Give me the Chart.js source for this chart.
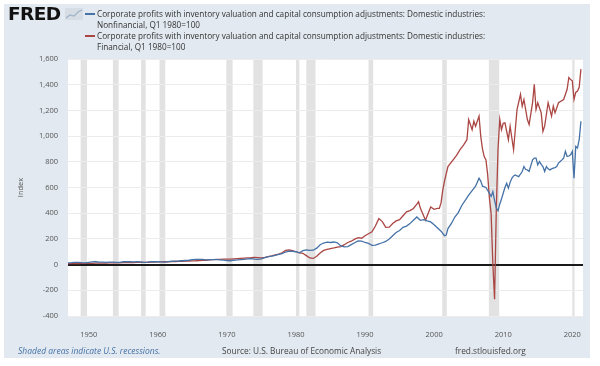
<!DOCTYPE html>
<html><head><meta charset="utf-8">
<script src="https://cdn.jsdelivr.net/npm/chart.js@4.4.1/dist/chart.umd.min.js"></script>
<style>
html,body{margin:0;padding:0;background:#fff;width:600px;height:366px;overflow:hidden;font-family:"Open Sans",sans-serif;}
#panel{position:absolute;left:4px;top:4px;width:586px;height:354px;background:#e2e9f0;}
canvas{position:absolute;left:0;top:0;}
.t{position:absolute;white-space:nowrap;font-size:8.2px;color:#333;line-height:11px;}
.dash{position:absolute;width:10px;height:2px;}
#logo{position:absolute;left:8px;top:3px;font-family:"DejaVu Sans",sans-serif;font-weight:900;font-size:18.5px;letter-spacing:-0.6px;color:#111;}
.f{position:absolute;top:345px;white-space:nowrap;font-size:8.3px;color:#444;}
</style></head>
<body>
<div id="panel"></div>
<canvas id="c" width="600" height="366"></canvas>
<div id="logo">FRED</div>
<svg style="position:absolute;left:65px;top:8px" width="18" height="12"><rect x="0" y="0" width="18" height="12" fill="#d6dde4"/><polyline points="1,10 5,7 9,8 13,4 17,2" fill="none" stroke="#9fb4c8" stroke-width="1.2"/></svg>
<div class="dash" style="left:85px;top:13px;background:#4572a7"></div>
<div class="t" style="left:97px;top:8px">Corporate profits with inventory valuation and capital consumption adjustments: Domestic industries:<br>Nonfinancial, Q1 1980=100</div>
<div class="dash" style="left:85px;top:35px;background:#aa4643"></div>
<div class="t" style="left:97px;top:30px">Corporate profits with inventory valuation and capital consumption adjustments: Domestic industries:<br>Financial, Q1 1980=100</div>
<div class="f" style="left:18px;font-style:italic;color:#4572a7;font-size:8.5px">Shaded areas indicate U.S. recessions.</div>
<div class="f" style="left:222px">Source: U.S. Bureau of Economic Analysis</div>
<div class="f" style="left:455px">fred.stlouisfed.org</div>
<script>
const xTickYears = [1950,1960,1970,1980,1990,2000,2010,2020];
const yTicks = [-400,-200,0,200,400,600,800,1000,1200,1400,1600];
const recStart = [1948.83,1953.5,1957.58,1960.25,1969.92,1973.83,1980.0,1981.5,1990.5,2001.17,2007.92,2020.0];
const recEnd   = [1949.75,1954.33,1958.25,1961.08,1970.83,1975.17,1980.5,1982.83,1991.17,2001.83,2009.42,2020.33];

const nonfinYears = [1947,1947.5,1948,1948.5,1949,1949.5,1950,1950.5,1951,1951.5,1952,1952.5,1953,1953.5,1954,1954.5,1955,1955.5,1956,1956.5,1957,1957.5,1958,1958.5,1959,1959.5,1960,1960.5,1961,1961.5,1962,1962.5,1963,1963.5,1964,1964.5,1965,1965.5,1966,1966.5,1967,1967.5,1968,1968.5,1969,1969.5,1970,1970.5,1971,1971.5,1972,1972.5,1973,1973.5,1974,1974.5,1975,1975.5,1976,1976.5,1977,1977.5,1978,1978.5,1979,1979.5,1980,1980.5,1981,1981.5,1982,1982.5,1983,1983.5,1984,1984.5,1985,1985.5,1986,1986.5,1987,1987.5,1988,1988.5,1989,1989.5,1990,1990.5,1991,1991.5,1992,1992.5,1993,1993.5,1994,1994.5,1995,1995.5,1996,1996.5,1997,1997.5,1998,1998.5,1999,1999.5,2000,2000.5,2001,2001.5,2001.75,2002,2002.5,2003,2003.5,2004,2004.5,2005,2005.5,2006,2006.5,2006.75,2007,2007.5,2008,2008.25,2008.5,2008.75,2009,2009.25,2009.5,2009.75,2010,2010.25,2010.5,2010.75,2011,2011.25,2011.5,2011.75,2012,2012.25,2012.5,2012.75,2013,2013.25,2013.5,2013.75,2014,2014.25,2014.5,2014.75,2015,2015.25,2015.5,2015.75,2016,2016.25,2016.5,2016.75,2017,2017.25,2017.5,2017.75,2018,2018.25,2018.5,2018.75,2019,2019.25,2019.5,2019.75,2020,2020.25,2020.5,2020.75,2021,2021.25];
const nonfinValues = [14,15,17,18,15,14,18,21,22,19,19,18,20,19,17,18,22,23,22,21,22,21,17,19,23,22,23,21,20,23,26,27,28,30,32,34,38,40,41,40,37,38,39,39,37,35,31,30,34,36,39,41,45,46,42,40,44,55,62,66,72,80,86,98,104,103,100,92,108,115,110,112,128,155,168,175,172,176,170,145,138,140,155,170,185,182,172,165,150,152,162,170,180,200,225,250,265,290,300,319,345,371,345,350,340,332,310,285,260,225,230,280,320,370,405,460,500,540,575,610,672,650,610,600,555,530,567,500,440,420,470,510,555,600,633,595,640,672,690,698,690,684,705,724,763,740,737,725,770,815,829,829,776,802,780,763,724,763,745,737,745,750,755,763,790,802,815,829,881,841,845,855,881,672,920,907,972,1116];

const finYears = [1947,1947.5,1948,1948.5,1949,1949.5,1950,1950.5,1951,1951.5,1952,1952.5,1953,1953.5,1954,1954.5,1955,1955.5,1956,1956.5,1957,1957.5,1958,1958.5,1959,1959.5,1960,1960.5,1961,1961.5,1962,1962.5,1963,1963.5,1964,1964.5,1965,1965.5,1966,1966.5,1967,1967.5,1968,1968.5,1969,1969.5,1970,1970.5,1971,1971.5,1972,1972.5,1973,1973.5,1974,1974.5,1975,1975.5,1976,1976.5,1977,1977.5,1978,1978.5,1979,1979.5,1980,1980.5,1981,1981.5,1982,1982.5,1983,1983.5,1984,1984.5,1985,1985.5,1986,1986.5,1987,1987.5,1988,1988.5,1989,1989.5,1990,1990.5,1991,1991.5,1991.75,1992,1992.5,1993,1993.5,1994,1994.5,1995,1995.5,1996,1996.5,1997,1997.5,1997.75,1998,1998.25,1998.75,1999,1999.5,2000,2000.5,2000.75,2001,2001.25,2001.5,2002,2002.75,2003.25,2003.75,2004.25,2004.75,2005,2005.5,2005.75,2006,2006.5,2006.75,2007,2007.25,2007.5,2007.75,2008,2008.25,2008.5,2008.75,2009,2009.25,2009.5,2009.75,2010,2010.25,2010.75,2011,2011.5,2012,2012.5,2012.75,2013,2013.5,2013.75,2014.25,2014.5,2014.75,2015,2015.5,2015.75,2016,2016.5,2017,2017.25,2017.5,2018,2018.75,2019.25,2019.5,2019.75,2020,2020.25,2020.5,2020.75,2021,2021.25];
const finValues = [7,7,8,8,9,9,10,10,11,11,12,12,13,13,14,14,15,15,16,16,17,17,18,18,19,20,21,21,22,22,23,24,25,26,27,28,29,30,32,33,34,36,38,40,41,42,42,43,45,47,49,51,53,54,56,55,52,56,62,68,75,82,92,110,115,108,100,92,88,70,52,48,65,90,110,118,125,130,136,140,155,172,182,198,210,205,225,240,255,300,330,358,335,290,292,320,340,350,380,410,420,437,470,489,440,410,345,380,449,430,437,437,480,580,650,763,815,850,894,930,972,1129,1050,1116,1077,1155,998,900,841,815,700,520,397,5,-270,430,900,1130,1050,1100,1103,972,1077,894,1207,1325,1233,1285,1129,1090,1260,1403,1207,1260,1181,1037,1077,1260,1155,1233,1181,1260,1285,1364,1456,1440,1430,1286,1340,1351,1380,1521];

const toXY = (xs, ys) => xs.map((x, i) => ({x: x, y: ys[i]}));

const bandsPlugin = {
  id: 'bands',
  beforeDraw(chart) {
    const {ctx, chartArea: a, scales: {x}} = chart;
    ctx.save();
    ctx.fillStyle = '#ffffff';
    ctx.fillRect(a.left, a.top, a.right - a.left, a.bottom - a.top);
    ctx.fillStyle = '#e2e2e2';
    for (let i = 0; i < recStart.length; i++) {
      const x0 = x.getPixelForValue(recStart[i]);
      const x1 = x.getPixelForValue(recEnd[i]);
      ctx.fillRect(x0, a.top, Math.max(x1 - x0, 2), a.bottom - a.top);
    }
    ctx.restore();
  }
};

const font = {family: '"Open Sans", sans-serif', size: 7.5};
new Chart(document.getElementById('c'), {
  type: 'line',
  data: {
    datasets: [
      {label: 'Nonfinancial', data: toXY(nonfinYears, nonfinValues), borderColor: '#4572a7', borderWidth: 1.3, pointRadius: 0, tension: 0},
      {label: 'Financial', data: toXY(finYears, finValues), borderColor: '#aa4643', borderWidth: 1.3, pointRadius: 0, tension: 0}
    ]
  },
  options: {
    responsive: false,
    devicePixelRatio: 1,
    animation: false,
    layout: {padding: {top: 59, right: 17, left: 0, bottom: 0}},
    plugins: {legend: {display: false}, tooltip: {enabled: false}},
    scales: {
      x: {
        type: 'linear', min: 1947, max: 2021.55,
        afterBuildTicks: s => { s.ticks = xTickYears.map(v => ({value: v})); },
        afterFit: s => { s.height = 50; },
        grid: {display: false},
        border: {display: false},
        ticks: {font: font, color: '#555', padding: 6, maxRotation: 0, callback: v => String(v)}
      },
      y: {
        min: -400, max: 1600,
        afterBuildTicks: s => { s.ticks = yTicks.map(v => ({value: v})); },
        afterFit: s => { s.width = 68; },
        border: {display: false},
        grid: {
          drawTicks: false,
          color: c => c.tick && c.tick.value === 0 ? '#1a1a1a' : '#ececec',
          lineWidth: c => c.tick && c.tick.value === 0 ? 2 : 1
        },
        ticks: {font: font, color: '#555', padding: 10, callback: v => v.toLocaleString('en-US')},
        title: {display: true, text: 'Index', font: font, color: '#555', padding: {top: 16, bottom: 0}}
      }
    }
  },
  plugins: [bandsPlugin]
});
</script>
</body></html>
